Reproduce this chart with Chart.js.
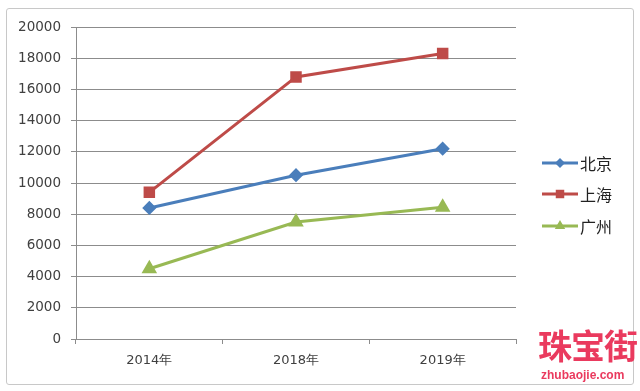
<!DOCTYPE html>
<html lang="zh">
<head>
  <meta charset="UTF-8">
  <title>北京 上海 广州</title>
  <script src="https://cdn.jsdelivr.net/npm/chart.js"></script>
  <style>
    body { margin: 0; background: #fff; }
    #wrap { position: relative; width: 640px; height: 391px; }
    #frame {
      position: absolute; left: 6px; top: 8px; width: 626px; height: 375px;
      border: 1px solid #c8c8c8; border-radius: 3px;
    }
    #mark1 {
      position: absolute; left: 538px; top: 320px;
      font: bold 34px "Noto Sans CJK SC", sans-serif; color: #ea3a5e;
      letter-spacing: -1px; white-space: nowrap;
    }
    #mark2 {
      position: absolute; left: 541px; top: 368px;
      font: bold 12px "Liberation Sans", sans-serif; color: #ea3a5e;
    }
  </style>
</head>
<body>
<div id="wrap">
  <div id="frame"></div>
  <canvas id="chart" width="640" height="391"></canvas>
  <div id="mark1">珠宝街</div>
  <div id="mark2">zhubaojie.com</div>
</div>
<script>
  // 数据
  const years = ['2014年', '2018年', '2019年'];
  const beijing = [8400, 10500, 12200];
  const shanghai = [9400, 16800, 18300];
  const guangzhou = [4500, 7500, 8450];

  const font = '"DejaVu Sans", sans-serif';
  const textColor = '#404040';
  const gridColor = '#8c8c8c';

  // 图例画在右侧
  const sideLegend = {
    id: 'sideLegend',
    afterDraw(chart) {
      const ctx = chart.ctx;
      const ys = [163, 194, 226];
      chart.data.datasets.forEach((ds, i) => {
        const y = ys[i];
        ctx.save();
        ctx.strokeStyle = ds.borderColor;
        ctx.lineWidth = 3;
        ctx.beginPath();
        ctx.moveTo(542, y);
        ctx.lineTo(578, y);
        ctx.stroke();
        ctx.fillStyle = ds.backgroundColor;
        Chart.helpers.drawPoint(ctx, {
          pointStyle: ds.pointStyle, radius: ds.pointRadius, borderWidth: 0
        }, 560, y);
        ctx.fillStyle = '#222';
        ctx.font = '16px "Noto Sans CJK SC", sans-serif';
        ctx.textBaseline = 'middle';
        ctx.fillText(ds.label, 580, y + 1);
        ctx.restore();
      });
    }
  };

  new Chart(document.getElementById('chart'), {
    type: 'line',
    data: {
      labels: years,
      datasets: [
        {
          label: '北京', data: beijing,
          borderColor: '#4a7ebb', backgroundColor: '#4a7ebb',
          pointStyle: 'rectRot', pointRadius: 5, borderWidth: 3
        },
        {
          label: '上海', data: shanghai,
          borderColor: '#be4b48', backgroundColor: '#be4b48',
          pointStyle: 'rect', pointRadius: 6, borderWidth: 3
        },
        {
          label: '广州', data: guangzhou,
          borderColor: '#98b954', backgroundColor: '#98b954',
          pointStyle: 'triangle', pointRadius: 6, borderWidth: 3
        }
      ]
    },
    options: {
      responsive: false,
      animation: false,
      layout: { padding: { top: 27, right: 124, left: 0, bottom: 0 } },
      plugins: { legend: { display: false }, tooltip: { enabled: false } },
      elements: { line: { tension: 0 }, point: { borderWidth: 0 } },
      scales: {
        x: {
          offset: true,
          grid: { offset: true, drawOnChartArea: false, drawTicks: true, tickLength: 5, color: gridColor },
          border: { color: gridColor, width: 1 },
          ticks: { color: textColor, font: { family: font, size: 13 }, padding: 9 },
          afterFit(scale) { scale.height = 52; }
        },
        y: {
          min: 0, max: 20000,
          grid: { color: gridColor, tickLength: 5 },
          border: { color: gridColor, width: 1 },
          ticks: {
            stepSize: 2000, color: textColor, font: { family: font, size: 13.5 }, padding: 10,
            callback: (v) => String(v)
          },
          afterFit(scale) { scale.width = 76; }
        }
      }
    },
    plugins: [sideLegend]
  });
</script>
</body>
</html>
